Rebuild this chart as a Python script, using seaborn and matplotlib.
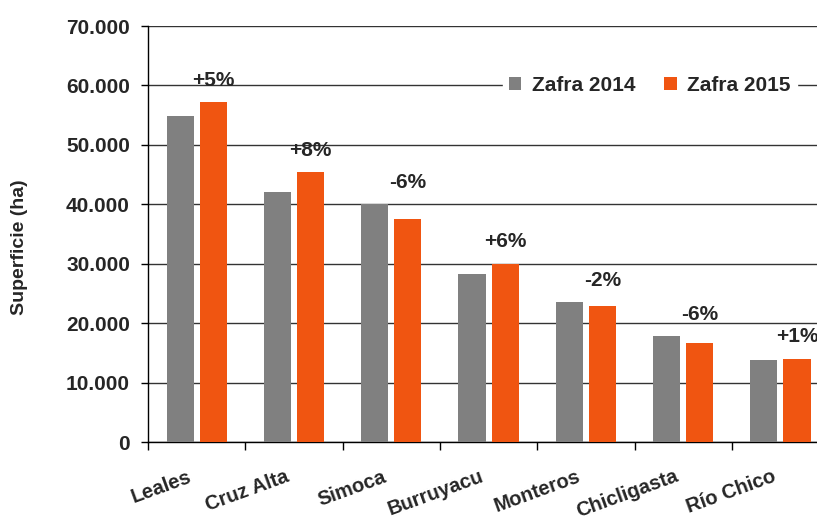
import matplotlib
matplotlib.use('agg')
import matplotlib.pyplot as plt
from matplotlib.ticker import FuncFormatter, FixedLocator
from matplotlib.transforms import ScaledTranslation
import pandas as pd
import seaborn as sns

# data
departamentos = ['Leales', 'Cruz Alta', 'Simoca', 'Burruyacu', 'Monteros', 'Chicligasta', 'Río Chico']
zafra_2014 = [54900, 42100, 40000, 28200, 23500, 17800, 13800]
zafra_2015 = [57200, 45400, 37600, 30000, 22900, 16700, 14000]
variacion = ['+5%', '+8%', '-6%', '+6%', '-2%', '-6%', '+1%']
series = ['Zafra 2014', 'Zafra 2015']

df = pd.DataFrame({
    'departamento': departamentos * 2,
    'superficie': zafra_2014 + zafra_2015,
    'zafra': [series[0]] * len(departamentos) + [series[1]] * len(departamentos),
})

sns.set_style('white')
plt.rcParams['font.family'] = ['Liberation Sans', 'DejaVu Sans']
plt.rcParams['font.weight'] = 'bold'

fig = plt.figure(figsize=(8.17, 5.21), dpi=100)
ax = fig.add_axes([148 / 817, 79 / 521, 1 - 148 / 817, 416 / 521])

palette = {'Zafra 2014': '#808080', 'Zafra 2015': '#F05511'}
sns.barplot(data=df, x='departamento', y='superficie', hue='zafra', palette=palette,
            width=0.68, gap=0.18, saturation=1, linewidth=0, ax=ax, zorder=3)

ax.set_ylim(0, 70000)
ax.set_xlim(-0.5, -0.5 + (817 - 148) / 97.3)
ax.set_yticks(range(0, 70001, 10000))
ax.yaxis.set_major_formatter(FuncFormatter(lambda v, p: f'{int(v):,}'.replace(',', '.')))
ax.grid(axis='y', color='#333333', linewidth=1, zorder=0)
ax.set_axisbelow(True)

for s in ['top', 'right']:
    ax.spines[s].set_visible(False)
for s in ['left', 'bottom']:
    ax.spines[s].set_color('black')
    ax.spines[s].set_linewidth(1)

ax.tick_params(axis='y', which='major', direction='out', length=5, width=1, color='black',
               labelsize=15, pad=8, left=True)
ax.tick_params(axis='x', which='major', length=0, labelsize=14.5, pad=18)
ax.xaxis.set_minor_locator(FixedLocator([i - 0.5 for i in range(len(departamentos) + 1)]))
ax.tick_params(axis='x', which='minor', direction='out', length=6, width=1, color='black', bottom=True)

shift = ScaledTranslation(-0.09, 0, fig.dpi_scale_trans)
for lbl in ax.get_xticklabels():
    lbl.set_rotation(20)
    lbl.set_ha('right')
    lbl.set_rotation_mode('anchor')
    lbl.set_fontweight('bold')
    lbl.set_transform(lbl.get_transform() + shift)
for lbl in ax.get_yticklabels():
    lbl.set_fontweight('bold')

ax.set_xlabel('')
ax.set_ylabel('Superficie (ha)', fontsize=14, fontweight='bold')
ax.yaxis.set_label_coords(-0.18, 0.469)

# variation labels above each pair
for i, txt in enumerate(variacion):
    top = max(zafra_2014[i], zafra_2015[i])
    ax.text(i + 0.17, top + 3700, txt, ha='center', va='center', fontsize=15, fontweight='bold')

leg = ax.legend(loc='center', bbox_to_anchor=(0.75, 0.858), ncol=2,
                frameon=True, fancybox=False, edgecolor='white', facecolor='white', framealpha=1,
                fontsize=15, handlelength=0.6, handleheight=0.6, handletextpad=0.5,
                columnspacing=1.4, borderpad=0.3)
for t in leg.get_texts():
    t.set_fontweight('bold')
leg.set_zorder(5)

fig.savefig('out.png', dpi=100)
